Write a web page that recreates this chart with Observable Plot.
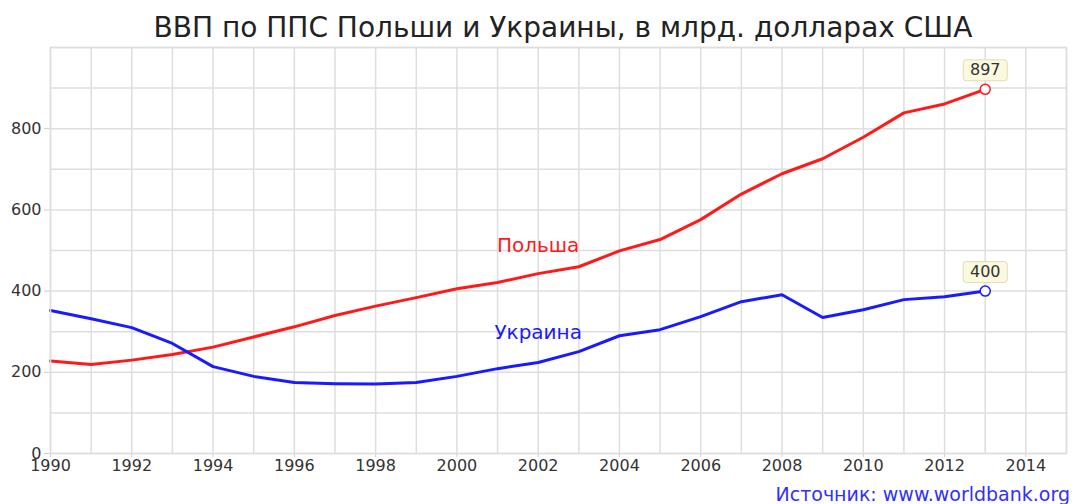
<!DOCTYPE html>
<html>
<head>
<meta charset="utf-8">
<script src="https://cdn.jsdelivr.net/npm/d3@7"></script>
<script src="https://cdn.jsdelivr.net/npm/@observablehq/plot@0.6"></script>
<style>
  body { margin: 0; background: #fff; font-family: "DejaVu Sans", sans-serif; }
  #wrap { width: 1074px; }
  #title { text-align: center; font-size: 28px; line-height: 34px; padding-top: 11px; padding-left: 52px; height: 34px; color: #222; white-space: nowrap; }
  #caption { text-align: right; font-size: 19px; line-height: 24px; margin-top: 3px; padding-right: 4px; color: #3030ff; }
</style>
</head>
<body>
<div id="wrap">
  <div id="title">ВВП по ППС Польши и Украины, в млрд. долларах США</div>
  <div id="chart"></div>
  <div id="caption">Источник: www.worldbank.org</div>
</div>
<script>
const years = d3.range(1990, 2014);
const poland = [228, 219, 230, 244, 262, 287, 312, 340, 363, 384, 406, 421, 443, 460, 499, 527, 576, 639, 689, 726, 779, 839, 861, 897];
const ukraine = [352, 332, 310, 271, 214, 190, 175, 172, 171, 175, 190, 209, 224, 251, 290, 305, 337, 374, 391, 335, 354, 379, 386, 400];
const seriesNames = ["Польша", "Украина"];
const seriesColors = ["#ff1a1a", "#1a1aff"];
const labelYear = 2002;
const labelValues = [512, 298];

const rows = [];
years.forEach((yr, i) => {
  rows.push({ year: yr, value: poland[i], s: seriesNames[0] });
  rows.push({ year: yr, value: ukraine[i], s: seriesNames[1] });
});
const last = [
  { year: years[years.length - 1], value: poland[poland.length - 1], s: seriesNames[0] },
  { year: years[years.length - 1], value: ukraine[ukraine.length - 1], s: seriesNames[1] }
];
const labels = seriesNames.map((s, i) => ({ year: labelYear, value: labelValues[i], s }));

const color = { domain: seriesNames, range: seriesColors };

const chart = Plot.plot({
  width: 1074,
  height: 434,
  marginLeft: 50,
  marginRight: 8,
  marginTop: 2,
  marginBottom: 26,
  style: { fontFamily: "DejaVu Sans, sans-serif", fontSize: "16px", color: "#333" },
  x: { domain: [1990, 2015], label: null },
  y: { domain: [0, 1000], label: null },
  color,
  marks: [
    Plot.gridX(d3.range(1990, 2016), { stroke: "#dedede", strokeOpacity: 1, strokeWidth: 1.5 }),
    Plot.gridY(d3.range(0, 1001, 100), { stroke: "#dedede", strokeOpacity: 1, strokeWidth: 1.5 }),
    Plot.axisX(d3.range(1990, 2015, 2), { tickFormat: d => String(d), tickSize: 4, tickPadding: 2, stroke: "#ccc", fill: "#333", fontSize: 16 }),
    Plot.axisY(d3.range(0, 801, 200), { tickSize: 6, tickPadding: 3, stroke: "#ccc", fill: "#333", fontSize: 16 }),
    Plot.line(rows, { x: "year", y: "value", z: "s", stroke: "s", strokeWidth: 3 }),
    Plot.dot(last, { x: "year", y: "value", stroke: "s", fill: "white", r: 5, strokeWidth: 1.5 }),
    Plot.text(labels, { x: "year", y: "value", text: "s", fill: "s", fontSize: 20 }),
    Plot.text(last, {
      x: "year", y: "value", text: d => String(d.value), dy: -19, fill: "#333", fontSize: 16,
      render(index, scales, values, dimensions, context, next) {
        const g = next(index, scales, values, dimensions, context);
        const ns = "http://www.w3.org/2000/svg";
        for (const i of index) {
          const r = document.createElementNS(ns, "rect");
          r.setAttribute("x", values.x[i] - 22);
          r.setAttribute("y", values.y[i] - 10.5);
          r.setAttribute("width", 44);
          r.setAttribute("height", 21);
          r.setAttribute("rx", 3);
          r.setAttribute("fill", "#fbf9df");
          r.setAttribute("stroke", "#e3dbb5");
          g.insertBefore(r, g.firstChild);
        }
        return g;
      }
    }),
    Plot.frame({ stroke: "#dedede", strokeWidth: 1.5 })
  ]
});
document.getElementById("chart").appendChild(chart);
</script>
</body>
</html>
